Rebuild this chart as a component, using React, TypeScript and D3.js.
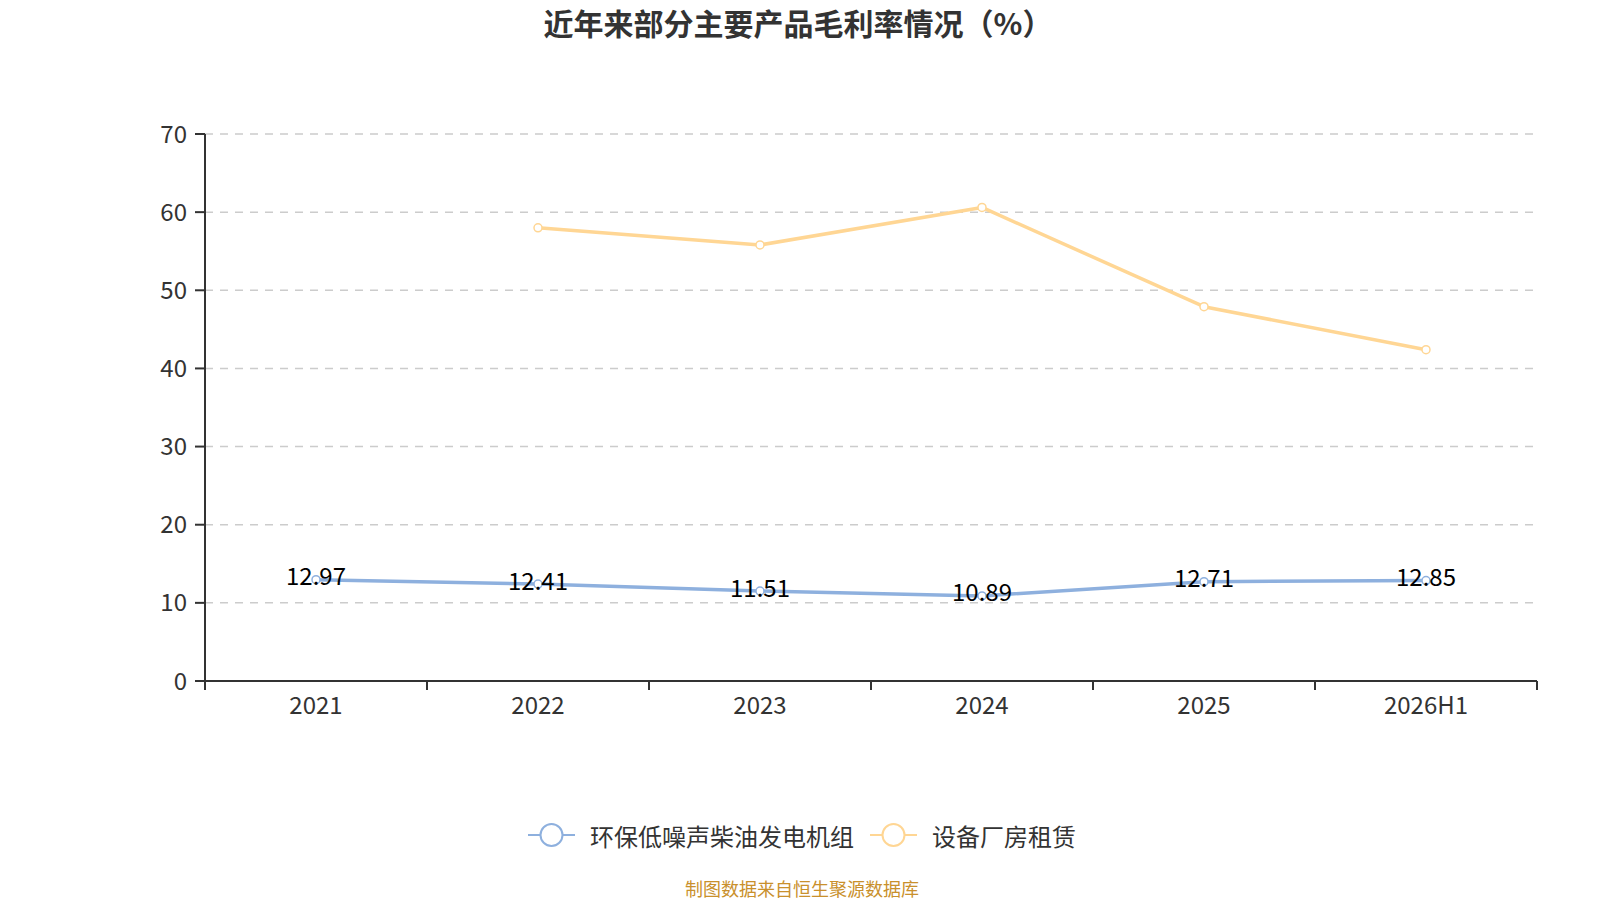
import { useEffect, useRef } from 'react';
import * as d3 from 'd3';

// chart data
const categories = ['2021', '2022', '2023', '2024', '2025', '2026H1'];
const dieselValues: (number | null)[] = [12.97, 12.41, 11.51, 10.89, 12.71, 12.85];
const rentalValues: (number | null)[] = [null, 58.0, 55.8, 60.6, 47.9, 42.4];
const yTicks = [0, 10, 20, 30, 40, 50, 60, 70];

const seriesNames = ['环保低噪声柴油发电机组', '设备厂房租赁'];
const seriesColors = ['#8eb0de', '#ffd694'];

const title = '近年来部分主要产品毛利率情况（%）';
const footer = '制图数据来自恒生聚源数据库';

const FONT = '"Noto Sans CJK SC", "Noto Sans", sans-serif';

export default function App() {
  const svgRef = useRef<SVGSVGElement | null>(null);

  const width = 1600;
  const height = 900;
  const plot = { left: 205, right: 1537, top: 134, bottom: 681 };

  useEffect(() => {
    const svg = d3.select(svgRef.current);
    svg.selectAll('*').remove();

    const xScale = d3
      .scaleBand<string>()
      .domain(categories)
      .range([plot.left, plot.right]);

    const yScale = d3
      .scaleLinear()
      .domain([0, 70])
      .range([plot.bottom, plot.top]);

    const xc = (c: string) => (xScale(c) as number) + xScale.bandwidth() / 2;

    // Title
    svg
      .append('text')
      .attr('x', 798)
      .attr('y', 22)
      .attr('text-anchor', 'middle')
      .attr('dominant-baseline', 'central')
      .attr('font-family', FONT)
      .attr('font-size', 30)
      .attr('font-weight', 'bold')
      .attr('fill', '#333')
      .text(title);

    // Dashed grid lines
    svg
      .append('g')
      .selectAll('line')
      .data(yTicks.filter((t) => t > 0))
      .enter()
      .append('line')
      .attr('x1', plot.left)
      .attr('x2', plot.right)
      .attr('y1', (d) => yScale(d))
      .attr('y2', (d) => yScale(d))
      .attr('stroke', '#cccccc')
      .attr('stroke-width', 1.5)
      .attr('stroke-dasharray', '8,7');

    // Y axis
    const yAxis = svg.append('g');
    yAxis
      .append('line')
      .attr('x1', plot.left)
      .attr('x2', plot.left)
      .attr('y1', plot.top)
      .attr('y2', plot.bottom)
      .attr('stroke', '#333')
      .attr('stroke-width', 2);
    yTicks.forEach((t) => {
      yAxis
        .append('line')
        .attr('x1', plot.left - 10)
        .attr('x2', plot.left)
        .attr('y1', yScale(t))
        .attr('y2', yScale(t))
        .attr('stroke', '#333')
        .attr('stroke-width', 2);
      yAxis
        .append('text')
        .attr('x', plot.left - 18)
        .attr('y', yScale(t) - 2)
        .attr('text-anchor', 'end')
        .attr('dominant-baseline', 'central')
        .attr('font-family', FONT)
        .attr('font-size', 24)
        .attr('fill', '#333')
        .text(t);
    });

    // X axis
    const xAxis = svg.append('g');
    xAxis
      .append('line')
      .attr('x1', plot.left)
      .attr('x2', plot.right)
      .attr('y1', plot.bottom)
      .attr('y2', plot.bottom)
      .attr('stroke', '#333')
      .attr('stroke-width', 2);
    const boundaries = categories.map((c) => xScale(c) as number).concat([plot.right]);
    boundaries.forEach((bx) => {
      xAxis
        .append('line')
        .attr('x1', bx)
        .attr('x2', bx)
        .attr('y1', plot.bottom)
        .attr('y2', plot.bottom + 9)
        .attr('stroke', '#333')
        .attr('stroke-width', 2);
    });
    categories.forEach((c) => {
      xAxis
        .append('text')
        .attr('x', xc(c))
        .attr('y', 703)
        .attr('text-anchor', 'middle')
        .attr('dominant-baseline', 'central')
        .attr('font-family', FONT)
        .attr('font-size', 24)
        .attr('fill', '#333')
        .text(c);
    });

    // Lines and points
    const allSeries = [dieselValues, rentalValues];
    allSeries.forEach((values, i) => {
      const pts = categories
        .map((c, j) => ({ c, v: values[j] }))
        .filter((d) => d.v !== null) as { c: string; v: number }[];

      const line = d3
        .line<{ c: string; v: number }>()
        .x((d) => xc(d.c))
        .y((d) => yScale(d.v));

      svg
        .append('path')
        .datum(pts)
        .attr('fill', 'none')
        .attr('stroke', seriesColors[i])
        .attr('stroke-width', 3.5)
        .attr('stroke-linejoin', 'round')
        .attr('d', line);

      svg
        .append('g')
        .selectAll('circle')
        .data(pts)
        .enter()
        .append('circle')
        .attr('cx', (d) => xc(d.c))
        .attr('cy', (d) => yScale(d.v))
        .attr('r', 4)
        .attr('fill', '#fff')
        .attr('stroke', seriesColors[i])
        .attr('stroke-width', 1.5);

      // Only the first series is labelled
      if (i === 0) {
        svg
          .append('g')
          .selectAll('text')
          .data(pts)
          .enter()
          .append('text')
          .attr('x', (d) => xc(d.c))
          .attr('y', (d) => yScale(d.v) - 5)
          .attr('text-anchor', 'middle')
          .attr('dominant-baseline', 'central')
          .attr('font-family', FONT)
          .attr('font-size', 24)
          .attr('fill', '#000')
          .text((d) => d.v.toFixed(2));
      }
    });

    // Legend, laid out from measured text widths and centred
    const legendY = 835;
    const legend = svg.append('g');
    let cursor = 0;
    seriesNames.forEach((name, i) => {
      const g = legend.append('g').attr('transform', `translate(${cursor},0)`);
      g.append('line')
        .attr('x1', 0)
        .attr('x2', 47)
        .attr('y1', 0)
        .attr('y2', 0)
        .attr('stroke', seriesColors[i])
        .attr('stroke-width', 2);
      g.append('circle')
        .attr('cx', 23.5)
        .attr('cy', 0)
        .attr('r', 11)
        .attr('fill', '#fff')
        .attr('stroke', seriesColors[i])
        .attr('stroke-width', 2);
      const t = g
        .append('text')
        .attr('x', 62)
        .attr('y', 0)
        .attr('dominant-baseline', 'central')
        .attr('font-family', FONT)
        .attr('font-size', 24)
        .attr('fill', '#333')
        .text(name);
      const len = (t.node() as SVGTextElement).getComputedTextLength();
      cursor += 62 + len + (i < seriesNames.length - 1 ? 16 : 0);
    });
    legend.attr('transform', `translate(${802 - cursor / 2},${legendY})`);

    // Source note
    svg
      .append('text')
      .attr('x', 802)
      .attr('y', 888)
      .attr('text-anchor', 'middle')
      .attr('dominant-baseline', 'central')
      .attr('font-family', FONT)
      .attr('font-size', 18)
      .attr('fill', '#c9902c')
      .text(footer);
  }, []);

  return (
    <div style={{ position: 'absolute', left: 0, top: 0, background: '#fff' }}>
      <svg ref={svgRef} width={width} height={height}></svg>
    </div>
  );
}
